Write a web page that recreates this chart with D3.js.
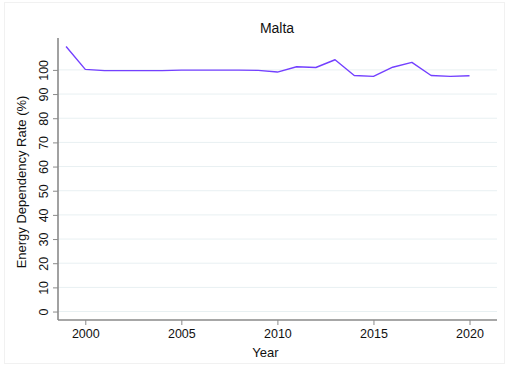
<!DOCTYPE html>
<html>
<head>
<meta charset="utf-8">
<script src="https://cdn.jsdelivr.net/npm/d3@7"></script>
<style>
  html, body { margin: 0; padding: 0; background: #fff; }
  svg { display: block; font-family: "Liberation Sans", Arial, Helvetica, sans-serif; }
</style>
</head>
<body>
<svg id="chart" width="509" height="367"></svg>
<script>
// Energy dependency rate of Malta, by year
const years = [1999, 2000, 2001, 2002, 2003, 2004, 2005, 2006, 2007, 2008, 2009, 2010,
               2011, 2012, 2013, 2014, 2015, 2016, 2017, 2018, 2019, 2020];
const rates = [109.7, 100.2, 99.7, 99.7, 99.7, 99.7, 99.9, 99.9, 99.9, 99.9, 99.8, 99.1,
               101.3, 101.0, 104.2, 97.7, 97.3, 101.1, 103.1, 97.7, 97.3, 97.6];
const xTicks = [2000, 2005, 2010, 2015, 2020];
const yTicks = [0, 10, 20, 30, 40, 50, 60, 70, 80, 90, 100];

const chartTitle = "Malta";
const xTitle = "Year";
const yTitle = "Energy Dependency Rate (%)";

const svg = d3.select("#chart");
const W = 509, H = 367;
const plotLeft = 58, plotRight = 497, plotTop = 38, plotBottom = 320;

// faint outer frame of the graph region
svg.append("rect")
  .attr("x", 4.5).attr("y", 2.5).attr("width", W - 9).attr("height", H - 6)
  .attr("fill", "#fff").attr("stroke", "#f1f1f1").attr("stroke-width", 1);

const x = d3.scaleLinear().domain([1998.58, 2021.43]).range([plotLeft, plotRight]);
const y = d3.scaleLinear().domain([-3.5, 113.2]).range([plotBottom, plotTop]);

// horizontal gridlines
svg.append("g")
  .selectAll("line")
  .data(yTicks)
  .join("line")
  .attr("x1", plotLeft).attr("x2", plotRight)
  .attr("y1", d => y(d)).attr("y2", d => y(d))
  .attr("stroke", "#e8f0f2").attr("stroke-width", 1);

// y axis
const yAxis = svg.append("g")
  .attr("transform", `translate(${plotLeft},0)`)
  .call(d3.axisLeft(y).tickValues(yTicks).tickSize(5).tickPadding(5).tickSizeOuter(0));
yAxis.select(".domain").attr("stroke", "#8a8a8a").attr("stroke-width", 1.6)
  .attr("d", `M0,${plotTop}V${plotBottom}`);
yAxis.selectAll(".tick line").attr("stroke", "#8a8a8a").attr("stroke-width", 1);
yAxis.selectAll(".tick text")
  .attr("font-size", 12.5).attr("fill", "#111")
  .attr("transform", "rotate(-90)")
  .attr("x", 0).attr("y", -10)
  .attr("dy", "0")
  .attr("text-anchor", "middle");

// x axis
const xAxis = svg.append("g")
  .attr("transform", `translate(0,${plotBottom})`)
  .call(d3.axisBottom(x).tickValues(xTicks).tickFormat(d3.format("d")).tickSize(5).tickPadding(4).tickSizeOuter(0));
xAxis.select(".domain").attr("stroke", "#8a8a8a").attr("stroke-width", 1.6)
  .attr("d", `M${plotLeft},0H${plotRight}`);
xAxis.selectAll(".tick line").attr("stroke", "#8a8a8a").attr("stroke-width", 1);
xAxis.selectAll(".tick text").attr("font-size", 12.5).attr("fill", "#111");

// data line
const line = d3.line().x((d, i) => x(years[i])).y(d => y(d));
svg.append("path")
  .datum(rates)
  .attr("d", line)
  .attr("fill", "none")
  .attr("stroke", "#7340ff")
  .attr("stroke-width", 1.4)
  .attr("stroke-linejoin", "round");

// titles
svg.append("text")
  .attr("x", (plotLeft + plotRight) / 2 - 0.5).attr("y", 33)
  .attr("text-anchor", "middle").attr("font-size", 14).attr("fill", "#111")
  .text(chartTitle);

svg.append("text")
  .attr("x", (plotLeft + plotRight) / 2 - 12).attr("y", 357)
  .attr("text-anchor", "middle").attr("font-size", 13).attr("fill", "#111")
  .text(xTitle);

svg.append("text")
  .attr("transform", `translate(26,${(plotTop + plotBottom) / 2 + 3}) rotate(-90)`)
  .attr("text-anchor", "middle").attr("font-size", 13).attr("fill", "#111")
  .text(yTitle);
</script>
</body>
</html>
